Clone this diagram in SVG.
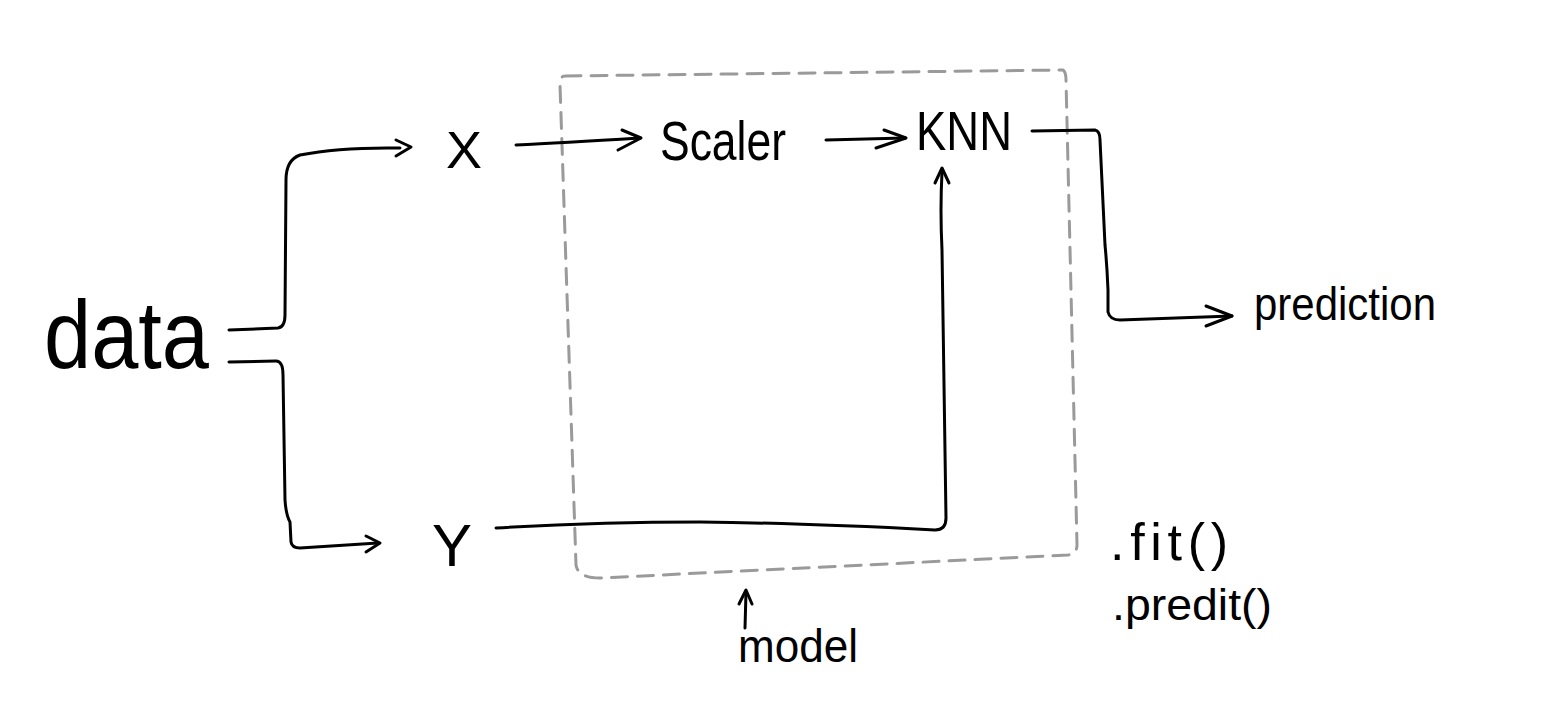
<svg xmlns="http://www.w3.org/2000/svg" width="1560" height="718" viewBox="0 0 1560 718">
<style>
.t{font-family:"Liberation Sans","DejaVu Sans",sans-serif;fill:#000}
.c{fill:none;stroke:#000;stroke-width:3;stroke-linecap:round;stroke-linejoin:round}
.box{fill:none;stroke:#9a9a9a;stroke-width:3;stroke-dasharray:16 10;stroke-linecap:round}
</style>
<rect width="1560" height="718" fill="#fff"/>
<g id="model-box">
<path class="box" d="M565,76 L1063,70 Q1066,72 1066,80 L1077,545 Q1077,554 1068,555 L600,578 Q578,578 576,565 L560,85 Q560,76 565,76"/>
</g>
<g id="connectors">
<path class="c" d="M229,330 L278,328 Q285,327 285,315 L286,180 Q286,160 300,155 Q340,147 400,148"/>
<path class="c" d="M396,140 L411,147 L396,156"/>
<path class="c" d="M229,362 L276,361 Q283,361 283,375 L285,500 Q286,515 290,522 L291,542 Q292,548 300,548 L378,543"/>
<path class="c" d="M366,536 L380,543 L366,552"/>
<path class="c" d="M516,145 Q560,143 640,138"/>
<path class="c" d="M622,130 L641,138 L618,150"/>
<path class="c" d="M826,140 L905,138"/>
<path class="c" d="M884,130 L906,138 L876,148"/>
<path class="c" d="M1032,131 L1095,130 Q1100,131 1100,140 L1105,245 Q1107,265 1108,290 L1108,312 Q1110,320 1120,320 L1232,316"/>
<path class="c" d="M1206,306 L1232,316 L1206,326"/>
<path class="c" d="M496,528 Q600,522 700,522 Q800,523 935,530 Q946,530 946,518 L942,250 Q940,210 942,172"/>
<path class="c" d="M935,183 L942,168 L949,183"/>
<path class="c" d="M745,628 L746,592"/>
<path class="c" d="M739,604 L746,590 L752,604"/>
</g>
<g id="data"><text class="t" x="44" y="368" font-size="96" textLength="165" lengthAdjust="spacingAndGlyphs">data</text></g>
<g id="X"><text class="t" x="446" y="168" font-size="52" textLength="36" lengthAdjust="spacingAndGlyphs">X</text></g>
<g id="Y"><text class="t" x="432" y="566" font-size="60" textLength="40" lengthAdjust="spacingAndGlyphs">Y</text></g>
<g id="scaler"><text class="t" x="660" y="160" font-size="56" textLength="126" lengthAdjust="spacingAndGlyphs">Scaler</text></g>
<g id="knn"><text class="t" x="916" y="150" font-size="56" textLength="96" lengthAdjust="spacingAndGlyphs">KNN</text></g>
<g id="prediction"><text class="t" x="1254" y="320" font-size="46" textLength="182" lengthAdjust="spacingAndGlyphs">prediction</text></g>
<g id="model-label"><text class="t" x="738" y="662" font-size="46" textLength="120" lengthAdjust="spacingAndGlyphs">model</text></g>
<g id="methods">
<text class="t" x="1110" y="560" font-size="52" textLength="118" lengthAdjust="spacing">.fit()</text>
<text class="t" x="1112" y="620" font-size="44" textLength="160" lengthAdjust="spacingAndGlyphs">.predit()</text>
</g>
</svg>
